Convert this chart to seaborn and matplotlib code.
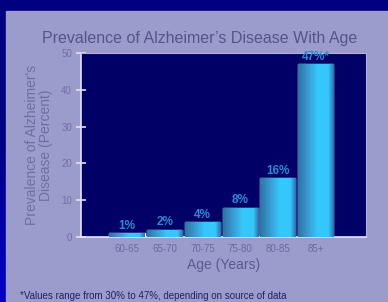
import numpy as np
import pandas as pd
import matplotlib
matplotlib.use("Agg")
import matplotlib.pyplot as plt
import seaborn as sns
from matplotlib.colors import LinearSegmentedColormap
from matplotlib.patches import Rectangle

# Chart data
age_groups = ["60-65", "65-70", "70-75", "75-80", "80-85", "85+"]
prevalence = [1, 2, 4, 8, 16, 47]
value_labels = ["1%", "2%", "4%", "8%", "16%", "47%*"]
y_ticks = [0, 10, 20, 30, 40, 50]

df = pd.DataFrame({"age": age_groups, "prevalence": prevalence})

sns.set_style("white")
plt.rcParams["font.family"] = ["Liberation Sans", "DejaVu Sans"]

fig = plt.figure(figsize=(3.88, 3.02), dpi=100)

# Background: dark blue slide with a lavender panel
bg = fig.add_axes([0, 0, 1, 1], zorder=-10)
bg_cmap = LinearSegmentedColormap.from_list("bg", ["#0000c8", "#000088", "#000080"])
bg.imshow(np.linspace(0, 1, 100).reshape(-1, 1), aspect="auto", cmap=bg_cmap,
          extent=[0, 1, 0, 1], origin="lower")
bg.add_patch(Rectangle((6 / 388, 0), 1, (302 - 11) / 302, color="#9c9ccc",
                       transform=bg.transAxes))
bg.set_xlim(0, 1)
bg.set_ylim(0, 1)
bg.axis("off")

ax = fig.add_axes([81 / 388, 65 / 302, 285 / 388, 184 / 302])
ax.set_facecolor("#000066")

sns.barplot(data=df, x="age", y="prevalence", color="#33ccff", width=0.93,
            ax=ax, saturation=1)

# Horizontal cyan gradient on each bar
bar_cmap = LinearSegmentedColormap.from_list(
    "bar", [(0, "#2e74a6"), (0.3, "#3a9ed6"), (0.55, "#35c8fa"),
            (0.85, "#33c8fc"), (1.0, "#2a72aa")])
grad = np.linspace(0, 1, 64).reshape(1, -1)
for patch in ax.patches:
    x0, y0 = patch.get_x(), patch.get_y()
    w, h = patch.get_width(), patch.get_height()
    im = ax.imshow(grad, cmap=bar_cmap, aspect="auto",
                   extent=[x0, x0 + w, y0, y0 + h], zorder=3)
    im.set_clip_path(patch)

for i, (v, lab) in enumerate(zip(prevalence, value_labels)):
    ax.annotate(lab, (i, v), xytext=(0, 1), textcoords="offset points",
                ha="center", va="bottom", fontsize=8.5, fontweight="bold",
                color="#2a8ad4", zorder=5)

ax.set_xlim(-1.22, 6.34)
ax.set_ylim(0, 50)
ax.set_yticks(y_ticks)
ax.set_yticklabels([str(t) for t in y_ticks])
ax.tick_params(axis="y", direction="inout", length=7, width=1.2, color="#e0e0f4",
               labelsize=7, labelcolor="#7070a4", pad=3, left=True)
ax.tick_params(axis="x", length=0, labelsize=7, labelcolor="#6a6a9e", pad=5)

for side in ["top", "right"]:
    ax.spines[side].set_color("#b0b0dc")
    ax.spines[side].set_linewidth(0.8)
for side in ["left", "bottom"]:
    ax.spines[side].set_color("#e4e4f6")
    ax.spines[side].set_linewidth(1.2)

ax.set_xlabel("Age (Years)", fontsize=10, color="#5a5a90", labelpad=3)
ax.set_ylabel("Prevalence of Alzheimer's\nDisease (Percent)", fontsize=10,
              color="#6e6ea0", labelpad=6, linespacing=1.0)

fig.text(0.515, 0.874, "Prevalence of Alzheimer\u2019s Disease With Age",
         ha="center", va="center", fontsize=11.5, color="#555588")
fig.text(0.052, 0.02, "*Values range from 30% to 47%, depending on source of data",
         ha="left", va="center", fontsize=7, color="#222266")

fig.savefig("out.png", dpi=100, facecolor=fig.get_facecolor())
